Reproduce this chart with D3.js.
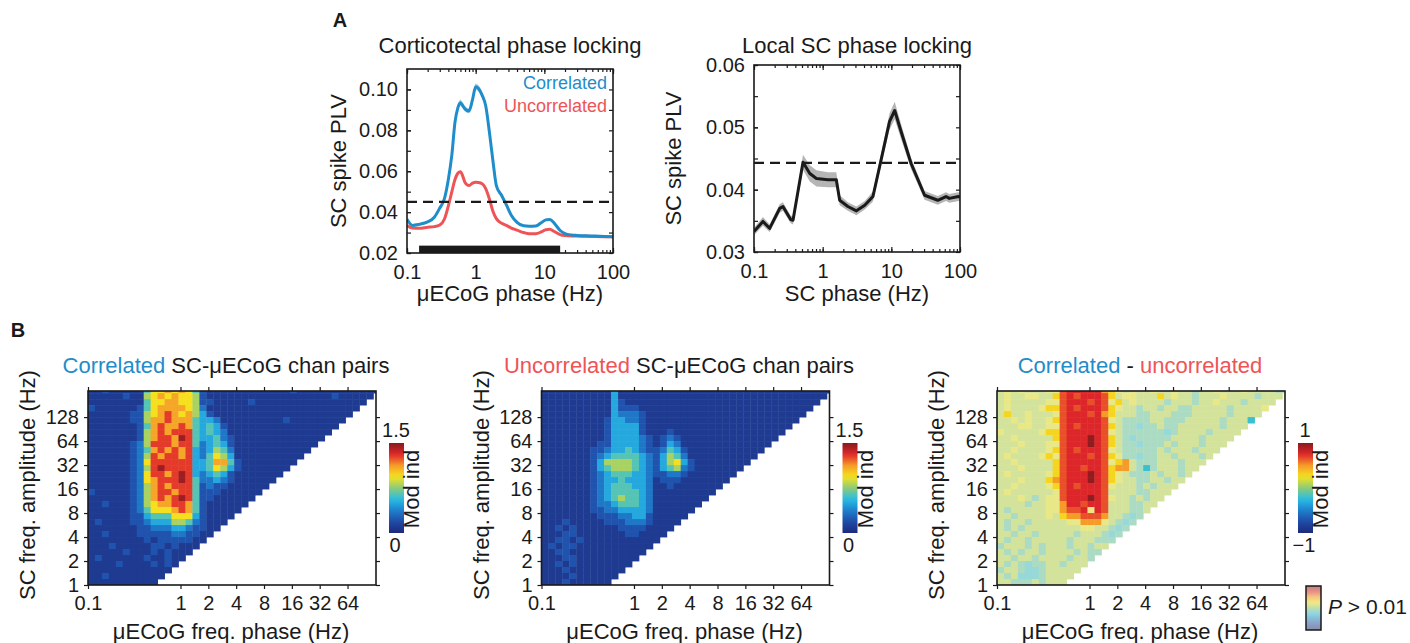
<!DOCTYPE html>
<html>
<head>
<meta charset="utf-8">
<script src="https://cdn.jsdelivr.net/npm/d3@7"></script>
<style>
  body { margin: 0; background: #fff; }
  text { font-family: "Liberation Sans", Arial, Helvetica, sans-serif; }
</style>
</head>
<body>
<div id="chart"></div>
<script>
// ---------- Panel A: spike phase locking ----------
const ctxFreq = [0.1, 0.12, 0.15, 0.2, 0.25, 0.3, 0.35, 0.4, 0.45, 0.5, 0.55, 0.6, 0.65, 0.7, 0.8, 0.9, 1.0, 1.1, 1.25, 1.4,
                 1.6, 1.8, 2.0, 2.4, 2.8, 3.3, 4, 5, 6, 7.5, 9, 10.5, 12, 14, 17, 20, 25, 30, 40, 55, 75, 100];
const corrPLV = [0.0365, 0.0335, 0.0340, 0.0352, 0.0375, 0.0420, 0.0465, 0.0560, 0.0680, 0.0840, 0.0910, 0.0935, 0.0920, 0.0905,
                 0.0895, 0.0950, 0.1013, 0.1005, 0.0970, 0.0920, 0.0780, 0.0640, 0.0530, 0.0480, 0.0435, 0.0385, 0.0350, 0.0333,
                 0.0331, 0.0332, 0.0348, 0.0362, 0.0364, 0.0345, 0.0310, 0.0295, 0.0288, 0.0286, 0.0284, 0.0283, 0.0281, 0.0280];
const corrSem = [0.0005, 0.0004, 0.0004, 0.0004, 0.0004, 0.0005, 0.0005, 0.0007, 0.0009, 0.0012, 0.0014, 0.0016, 0.0015, 0.0013,
                 0.0012, 0.0013, 0.0016, 0.0016, 0.0014, 0.0012, 0.0010, 0.0008, 0.0007, 0.0006, 0.0005, 0.0005, 0.0004, 0.0004,
                 0.0004, 0.0004, 0.0004, 0.0005, 0.0005, 0.0004, 0.0004, 0.0003, 0.0003, 0.0003, 0.0003, 0.0003, 0.0003, 0.0003];
const uncorrPLV = [0.0335, 0.0322, 0.0321, 0.0326, 0.0329, 0.0337, 0.0365, 0.0430, 0.0500, 0.0560, 0.0590, 0.0598, 0.0575, 0.0545,
                   0.0530, 0.0542, 0.0546, 0.0545, 0.0538, 0.0515, 0.0460, 0.0400, 0.0368, 0.0345, 0.0335, 0.0322, 0.0312, 0.0300,
                   0.0294, 0.0294, 0.0303, 0.0314, 0.0316, 0.0305, 0.0290, 0.0285, 0.0283, 0.0283, 0.0282, 0.0281, 0.0280, 0.0279];
const uncorrSem = [0.0003, 0.0003, 0.0003, 0.0003, 0.0003, 0.0003, 0.0003, 0.0004, 0.0004, 0.0005, 0.0005, 0.0005, 0.0005, 0.0004,
                   0.0004, 0.0004, 0.0004, 0.0004, 0.0004, 0.0004, 0.0004, 0.0003, 0.0003, 0.0003, 0.0003, 0.0003, 0.0003, 0.0003,
                   0.0003, 0.0003, 0.0003, 0.0003, 0.0003, 0.0003, 0.0003, 0.0003, 0.0003, 0.0003, 0.0003, 0.0003, 0.0003, 0.0003];
const ctxThreshold = 0.045;
const ctxSigBand = [0.15, 17];      // black bar under the curves (Hz)

const localFreq = [0.1, 0.135, 0.169, 0.237, 0.264, 0.342, 0.37, 0.517, 0.65, 0.81, 1.19, 1.58, 1.77, 2.33,
                   3.1, 4.1, 5.4, 7.1, 9.4, 11.2, 13.9, 19.4, 30.5, 47.5, 62.5, 70, 95, 100];
const localPLV = [0.0333, 0.0349, 0.0338, 0.0370, 0.0373, 0.0352, 0.0351, 0.0444, 0.0426, 0.0418, 0.0416, 0.0416, 0.0383, 0.0373,
                  0.0366, 0.0375, 0.0389, 0.0448, 0.0509, 0.0527, 0.0493, 0.0442, 0.0391, 0.0383, 0.0389, 0.0386, 0.0389, 0.0388];
const localSem = [0.0006, 0.0007, 0.0006, 0.0007, 0.0007, 0.0006, 0.0007, 0.0012, 0.0013, 0.0013, 0.0012, 0.0012, 0.0008, 0.0007,
                  0.0007, 0.0007, 0.0008, 0.0010, 0.0013, 0.0014, 0.0012, 0.0009, 0.0007, 0.0007, 0.0007, 0.0007, 0.0007, 0.0007];
const localThreshold = 0.0443;

const plvFreqTicks = [0.1, 1, 10, 100];
const ctxYTicks = [0.02, 0.04, 0.06, 0.08, 0.10];
const ctxYMinor = [0.02, 0.03, 0.04, 0.05, 0.06, 0.07, 0.08, 0.09, 0.10];
const localYTicks = [0.03, 0.04, 0.05, 0.06];
const localYMinor = [0.03, 0.035, 0.04, 0.045, 0.05, 0.055, 0.06];

// ---------- Panel B: phase-amplitude coupling maps ----------
const phaseTicks = [0.1, 1, 2, 4, 8, 16, 32, 64];
const ampTicks = [1, 2, 4, 8, 16, 32, 64, 128];
// bins are quarter octaves; phase bins start at 0.1 Hz, amplitude bins at 1 Hz
const phaseEdges = d3.range(43).map(i => 0.1 * 2 ** (i / 4));
const ampEdges = d3.range(34).map(i => 2 ** (i / 4));

// digit code -> modulation index (0..1.5 colour range)
const modLevels = [0.10, 0.22, 0.35, 0.5, 0.65, 0.8, 0.95, 1.1, 1.28, 1.45];
// digit (significant) / letter a-j (P > 0.01) code -> difference (-1..1 range)
const diffLevels = [-0.5, -0.2, -0.1, 0.1, 0.2, 0.3, 0.5, 0.66, 0.76, 0.97];

// rows listed from the top amplitude bin down; each row only holds the bins where amplitude > 2x phase
const corrRows = [
  "00100000 46676764 100000 00000001000000000000",
  "00000100 56767665 100000 0000000000000100000",
  "00000000 46677665 110000 010000000000000000",
  "10000001 46777765 200000 00000000000000000",
  "00000011 56787675 310000 0000000000000000",
  "00000011 57787774 332000 000000100000000",
  "00000001 47877874 343100 00000000000000",
  "00000001 57878884 343200 0000000000000",
  "00000001 57887984 334210 000000000000",
  "00000012 58887884 234310 00000000000",
  "00000012 47878783 235420 0000000000",
  "00000012 58788783 246530 000000000",
  "00000012 68888883 347741 00000000",
  "00000012 58988883 346531 0000000",
  "00000012 68878983 234310 000000",
  "00000012 67888984 223210 00000",
  "00000012 57878884 121100 0000",
  "10000012 57887884 111000 000",
  "00000012 57878984 110000 00",
  "00100012 56778874 100000 0",
  "00000012 46667874 100000",
  "00000011 34446663 10000",
  "01000011 23335542 1000",
  "00000001 12223321 100",
  "00100001 11112211 00",
  "00000000 10111110 0",
  "00010000 01101000",
  "00000100 0101000",
  "01000000 100100",
  "00001000 01010",
  "00000000 0000",
  "00100000 000",
  "00000000 00"
];
const uncorrRows = [
  "00000000 00300000 000000 00000000000000000000",
  "00000000 00300000 000000 0000000000000000000",
  "00000000 00310000 000000 000000000000000000",
  "00000000 00311100 000000 00000000000000000",
  "00000000 00322210 000000 0000000000000000",
  "00000000 01332210 000000 000000000000000",
  "00000000 01333310 000000 00000000000000",
  "00000000 01333310 001000 0000000000000",
  "00000000 01333321 012100 000000000000",
  "00000000 11333321 013200 00000000000",
  "00000001 12334321 124310 0000000000",
  "00000001 23444432 135420 000000000",
  "00000001 35555432 135631 00000000",
  "00000001 34555432 134521 0000000",
  "00000001 23444332 112210 000000",
  "00000001 23343332 011100 00000",
  "00000001 23444332 001000 0000",
  "00000001 23444432 000000 000",
  "00000001 23454432 000000 00",
  "00000001 22344432 000000 0",
  "00000001 12233332 000000",
  "00000000 11122331 00000",
  "00010000 01112221 0000",
  "00101000 00011110 000",
  "00011000 00001100 00",
  "00110100 00000000 0",
  "01011000 00000000",
  "00110000 0000000",
  "00011000 000000",
  "00101000 00000",
  "00010000 0000",
  "00001000 000",
  "00010000 00"
];
const diffRows = [
  "dededdde e7888886 5ededd eddeddcddedddeddddcd",
  "deddeedd 57878887 5deedd d5deddcdddeddddcddd",
  "deddddde e7888787 e5dedd ddcdddcddedddcdddd",
  "dedddde5 57878887 5eddcd dcddccdddddcdddde",
  "d5ddeddd e7888786 5dddcc dddcccdddddcdddd",
  "ddededde 57888887 edcccc ddcccdddddcddd1",
  "dddeedde e7878887 5dccbc cdccddddddcddd",
  "eddddde5 57888887 edcccc ccbcddddcdddd",
  "ddeddddd 57888987 5dcbcc cccddddcdddd",
  "dddeddde e7888987 5dccbc ccdcdddcddd",
  "ddedddde 57878887 edcccc cdcdddcddd",
  "dedddde5 e7888787 5eccbc cddcdddcd",
  "ddeddddd 57888887 e56dcc cdddcddd",
  "dddedddd 57887887 566dc1 cdddcdd",
  "deddddde 57888987 5edccc dcddcd",
  "dddeddd5 67888987 5eddcc ddcdd",
  "ddedddde 57878887 edddcd cddd",
  "dedddddd e7888887 ddddcc ddd",
  "dddedcde e7888987 eddcdc dd",
  "ddddcdde e6887887 dddccd d",
  "dcddddde e6778f87 dddccd",
  "ddcdddde d5667776 ddcbc",
  "dcddcddd ddee666e dcbc",
  "dcdcdddd ddddeedd cbc",
  "ddcddcdd dddcdddc bc",
  "dcddcddd ddcdddcc c",
  "cdddcdcd ddcddcdd",
  "dcdcddcd dddcdcc",
  "ddcddcdd ddcddc",
  "dcdcbccd dcddd",
  "cddcbbcd dddd",
  "dcdbbbcd ddd",
  "ddcccdcd dd"
];

// ---------- styling ----------
const FONT = '"Liberation Sans", Arial, Helvetica, sans-serif';
const INK = '#1a1a1a';
const BLUE = '#1f8dca';
const RED = '#ee5456';
const jetStops = ['#1d2a7a', '#1f4aa6', '#1f7fcc', '#27bde6', '#8ccb7a', '#f5e41e', '#f59b28', '#e1262b', '#861a1d'];
const jet = d3.scaleLinear()
  .domain(d3.range(jetStops.length).map(i => i / (jetStops.length - 1)))
  .range(jetStops)
  .interpolate(d3.interpolateRgb)
  .clamp(true);
const faded = t => d3.interpolateRgb(jet(t), '#f2f0e0')(0.5);

const svg = d3.select('#chart').append('svg')
  .attr('width', 1410)
  .attr('height', 643)
  .style('background', '#fff');
const defs = svg.append('defs');

function label(txt, x, y, size, opts = {}) {
  const t = svg.append('text')
    .attr('x', x).attr('y', y)
    .attr('font-size', size)
    .attr('fill', opts.fill || INK)
    .attr('text-anchor', opts.anchor || 'middle')
    .attr('font-weight', opts.bold ? 'bold' : null)
    .text(txt);
  if (opts.rotate) t.attr('transform', `rotate(-90,${x},${y})`);
  return t;
}

function styleAxis(g, size) {
  g.attr('font-size', size).attr('font-family', FONT).attr('color', INK);
  g.select('.domain').remove();
  g.selectAll('line').attr('stroke-width', 1.2);
}

// ---------- line panels ----------
function drawPlvPanel(p) {
  const x = d3.scaleLog().domain([0.1, 100]).range([p.left, p.right]);
  const y = d3.scaleLinear().domain(p.yDomain).range([p.bottom, p.top]);
  const g = svg.append('g');

  defs.append('clipPath').attr('id', p.id)
    .append('rect')
    .attr('x', p.left).attr('y', p.top)
    .attr('width', p.right - p.left).attr('height', p.bottom - p.top);
  const plot = g.append('g').attr('clip-path', `url(#${p.id})`);

  if (p.bar) {
    plot.append('rect')
      .attr('x', x(p.bar[0]))
      .attr('y', y(p.bar[2]))
      .attr('width', x(p.bar[1]) - x(p.bar[0]))
      .attr('height', y(p.yDomain[0]) - y(p.bar[2]))
      .attr('fill', '#1a1a1a');
  }

  p.series.forEach(s => {
    const pts = s.freq.map((f, i) => ({ f, v: s.values[i], e: s.sem[i] }));
    plot.append('path')
      .datum(pts)
      .attr('fill', s.band)
      .attr('d', d3.area().curve(s.curve)
        .x(d => x(d.f)).y0(d => y(d.v - d.e)).y1(d => y(d.v + d.e)));
    plot.append('path')
      .datum(pts)
      .attr('fill', 'none')
      .attr('stroke', s.color)
      .attr('stroke-width', 3)
      .attr('stroke-linejoin', 'round')
      .attr('d', d3.line().curve(s.curve).x(d => x(d.f)).y(d => y(d.v)));
  });

  plot.append('line')
    .attr('x1', p.left).attr('x2', p.right)
    .attr('y1', y(p.threshold)).attr('y2', y(p.threshold))
    .attr('stroke', INK).attr('stroke-width', 2.2)
    .attr('stroke-dasharray', '10,6');

  // ticks point inwards, minor log ticks on both x sides
  g.append('g').attr('transform', `translate(0,${p.bottom})`)
    .call(d3.axisBottom(x).tickValues(x.ticks()).tickSize(-3).tickFormat(''))
    .call(a => styleAxis(a, 20));
  g.append('g').attr('transform', `translate(0,${p.bottom})`)
    .call(d3.axisBottom(x).tickValues(plvFreqTicks).tickSize(-5).tickPadding(12).tickFormat(d => d))
    .call(a => styleAxis(a, 20));
  g.append('g').attr('transform', `translate(0,${p.top})`)
    .call(d3.axisTop(x).tickValues(x.ticks()).tickSize(-3).tickFormat(''))
    .call(a => styleAxis(a, 20));
  g.append('g').attr('transform', `translate(0,${p.top})`)
    .call(d3.axisTop(x).tickValues(plvFreqTicks).tickSize(-5).tickFormat(''))
    .call(a => styleAxis(a, 20));
  g.append('g').attr('transform', `translate(${p.left},0)`)
    .call(d3.axisLeft(y).tickValues(p.yMinor).tickSize(-4).tickFormat(''))
    .call(a => styleAxis(a, 20));
  g.append('g').attr('transform', `translate(${p.left},0)`)
    .call(d3.axisLeft(y).tickValues(p.yTicks).tickSize(-4).tickPadding(9).tickFormat(d3.format('.2f')))
    .call(a => styleAxis(a, 20));
  g.append('g').attr('transform', `translate(${p.right},0)`)
    .call(d3.axisRight(y).tickValues(p.yMinor).tickSize(-4).tickFormat(''))
    .call(a => styleAxis(a, 20));

  g.append('rect')
    .attr('x', p.left).attr('y', p.top)
    .attr('width', p.right - p.left).attr('height', p.bottom - p.top)
    .attr('fill', 'none').attr('stroke', INK).attr('stroke-width', 1.6);

  label(p.title, (p.left + p.right) / 2 + p.titleDx, 53, 22);
  label(p.xLabel, (p.left + p.right) / 2, 301, 22);
  label('SC spike PLV', p.yLabelX, (p.top + p.bottom) / 2, 22, { rotate: true });
}

drawPlvPanel({
  id: 'clipCtx', left: 407, right: 613, top: 69, bottom: 253,
  yDomain: [0.02, 0.11], yTicks: ctxYTicks, yMinor: ctxYMinor,
  threshold: ctxThreshold, bar: [ctxSigBand[0], ctxSigBand[1], 0.0236],
  series: [
    { freq: ctxFreq, values: uncorrPLV, sem: uncorrSem, color: RED, band: '#f6b3b3', curve: d3.curveMonotoneX },
    { freq: ctxFreq, values: corrPLV, sem: corrSem, color: BLUE, band: '#a8d0ea', curve: d3.curveMonotoneX }
  ],
  title: 'Corticotectal phase locking', titleDx: 0, xLabel: 'μECoG phase (Hz)', yLabelX: 346
});
label('Correlated', 607, 89, 18, { anchor: 'end', fill: BLUE });
label('Uncorrelated', 607, 112, 18, { anchor: 'end', fill: RED });

drawPlvPanel({
  id: 'clipLocal', left: 754, right: 960, top: 65, bottom: 252,
  yDomain: [0.03, 0.06], yTicks: localYTicks, yMinor: localYMinor,
  threshold: localThreshold, bar: null,
  series: [
    { freq: localFreq, values: localPLV, sem: localSem, color: '#1a1a1a', band: '#b5b5b5', curve: d3.curveLinear }
  ],
  title: 'Local SC phase locking', titleDx: 0, xLabel: 'SC phase (Hz)', yLabelX: 681
});

label('A', 340, 27, 20, { bold: true });
label('B', 18, 337, 20, { bold: true });

// ---------- coupling maps ----------
function colorbar(id, x, y, w, h, colorFn) {
  const grad = defs.append('linearGradient').attr('id', id)
    .attr('x1', 0).attr('y1', 1).attr('x2', 0).attr('y2', 0);
  d3.range(21).forEach(i => {
    grad.append('stop').attr('offset', i / 20).attr('stop-color', colorFn(i / 20));
  });
  return svg.append('rect')
    .attr('x', x).attr('y', y).attr('width', w).attr('height', h)
    .attr('fill', `url(#${id})`);
}

function drawModMap(m) {
  const W = 288, H = 194;
  const x = d3.scaleLog().domain([0.1, 130]).range([m.left, m.left + W]);
  const y = d3.scaleLog().base(2).domain([1, 272]).range([m.top + H, m.top]);
  const g = svg.append('g');

  defs.append('clipPath').attr('id', m.id)
    .append('rect').attr('x', m.left).attr('y', m.top).attr('width', W).attr('height', H);

  const cells = [];
  m.rows.forEach((row, i) => {
    const r = m.rows.length - 1 - i;
    [...row.replace(/ /g, '')].forEach((code, c) => cells.push({ r, c, code }));
  });

  g.append('g').attr('clip-path', `url(#${m.id})`)
    .selectAll('rect')
    .data(cells)
    .join('rect')
    .attr('x', d => x(phaseEdges[d.c]))
    .attr('y', d => y(ampEdges[d.r + 1]))
    .attr('width', d => x(phaseEdges[d.c + 1]) - x(phaseEdges[d.c]) + 0.4)
    .attr('height', d => y(ampEdges[d.r]) - y(ampEdges[d.r + 1]) + 0.4)
    .attr('fill', d => m.color(d.code));

  g.append('g').attr('transform', `translate(0,${m.top + H})`)
    .call(d3.axisBottom(x).tickValues(phaseTicks).tickSize(4).tickPadding(7).tickFormat(d => d))
    .call(a => styleAxis(a, 20));
  g.append('g').attr('transform', `translate(0,${m.top})`)
    .call(d3.axisTop(x).tickValues(phaseTicks).tickSize(4).tickFormat(''))
    .call(a => styleAxis(a, 20));
  g.append('g').attr('transform', `translate(${m.left},0)`)
    .call(d3.axisLeft(y).tickValues(ampTicks).tickSize(4).tickPadding(5).tickFormat(d => d))
    .call(a => styleAxis(a, 20));
  g.append('g').attr('transform', `translate(${m.left + W},0)`)
    .call(d3.axisRight(y).tickValues(ampTicks).tickSize(4).tickFormat(''))
    .call(a => styleAxis(a, 20));

  g.append('rect')
    .attr('x', m.left).attr('y', m.top).attr('width', W).attr('height', H)
    .attr('fill', 'none').attr('stroke', INK).attr('stroke-width', 1.6);

  label('SC freq. amplitude (Hz)', m.left - 53, m.top + H / 2 - 3, 22, { rotate: true });
  label('μECoG freq. phase (Hz)', m.left + 143, 639, 22);

  // colourbar with labels
  const cbx = m.left + W + 13;
  colorbar(m.id + 'Grad', cbx, 443, 15, 90, m.barColor);
  label(m.barTop, cbx + 7, 437, 20);
  label(m.barBottom, cbx + 6, 552, 20);
  label('Mod ind', cbx + 30, 489, 22, { rotate: true });
}

const modColor = code => jet(modLevels[+code] / 1.5);
const diffColor = code => /[0-9]/.test(code)
  ? jet((diffLevels[+code] + 1) / 2)
  : faded((diffLevels[code.charCodeAt(0) - 97] + 1) / 2);

drawModMap({ id: 'mapCorr', left: 88, top: 391, rows: corrRows, color: modColor,
             barColor: jet, barTop: '1.5', barBottom: '0' });
drawModMap({ id: 'mapUncorr', left: 541.5, top: 391, rows: uncorrRows, color: modColor,
             barColor: jet, barTop: '1.5', barBottom: '0' });
drawModMap({ id: 'mapDiff', left: 997, top: 391, rows: diffRows, color: diffColor,
             barColor: jet, barTop: '1', barBottom: '\u22121' });

// titles with coloured words
function mixedTitle(x, parts) {
  const t = svg.append('text').attr('x', x).attr('y', 373)
    .attr('font-size', 22).attr('text-anchor', 'middle');
  parts.forEach(([txt, col]) => t.append('tspan').attr('fill', col).text(txt));
}
mixedTitle(226, [['Correlated', BLUE], [' SC-μECoG chan pairs', INK]]);
mixedTitle(679, [['Uncorrelated', RED], [' SC-μECoG chan pairs', INK]]);
mixedTitle(1140, [['Correlated', BLUE], [' - ', INK], ['uncorrelated', RED]]);

// P > 0.01 legend (faded colours)
colorbar('fadedGrad', 1306, 586, 15, 44, faded)
  .attr('stroke', INK).attr('stroke-width', 1.5);
const pText = svg.append('text').attr('x', 1328).attr('y', 614)
  .attr('font-size', 21).attr('fill', INK);
pText.append('tspan').attr('font-style', 'italic').text('P');
pText.append('tspan').text(' > 0.01');
</script>
</body>
</html>
